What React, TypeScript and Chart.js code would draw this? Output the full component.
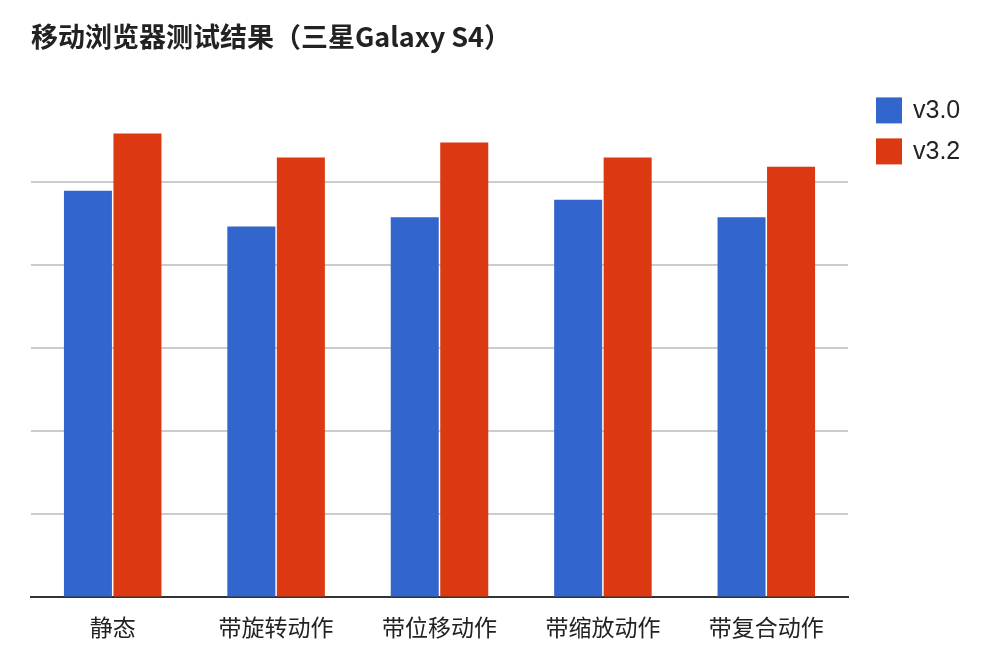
import * as React from 'react';
import {useRef, useEffect} from 'react';
import {Chart, registerables} from 'chart.js';

Chart.register(...registerables);

const categories = ['静态', '带旋转动作', '带位移动作', '带缩放动作', '带复合动作'];
const seriesNames = ['v3.0', 'v3.2'];
const v30 = [49.0, 44.7, 45.8, 47.9, 45.8];
const v32 = [55.9, 53.0, 54.8, 53.0, 51.9];
const colors = ['#3366cc', '#dc3912'];

const cjkFont = '"Noto Sans CJK SC", "Microsoft YaHei", sans-serif';

// legend drawn on the canvas, to the right of the plot
const sideLegend = {
  id: 'sideLegend',
  afterDraw(chart: any) {
    const {ctx, chartArea} = chart;
    const x = chartArea.right + 28;
    let y = chartArea.top - 2;
    ctx.save();
    ctx.font = '25px "Liberation Sans", Arial, sans-serif';
    ctx.textBaseline = 'middle';
    chart.data.datasets.forEach((ds: any) => {
      ctx.fillStyle = ds.backgroundColor;
      ctx.fillRect(x, y, 26, 26);
      ctx.fillStyle = '#222';
      ctx.fillText(ds.label, x + 37, y + 14);
      y += 41;
    });
    ctx.restore();
  },
};

function BarChart(): JSX.Element {
  const chartContainer = useRef(null);

  useEffect(() => {
    if (!chartContainer.current) return;
    const config: any = {
      type: 'bar',
      data: {
        labels: categories,
        datasets: [
          {label: seriesNames[0], data: v30, backgroundColor: colors[0]},
          {label: seriesNames[1], data: v32, backgroundColor: colors[1]},
        ],
      },
      options: {
        animation: false,
        responsive: true,
        maintainAspectRatio: false,
        layout: {padding: {left: 31, right: 148, top: 0, bottom: 21}},
        datasets: {
          bar: {categoryPercentage: 0.606, barPercentage: 0.97},
        },
        plugins: {
          legend: {display: false},
          tooltip: {enabled: false},
          title: {
            display: true,
            text: '移动浏览器测试结果（三星Galaxy S4）',
            align: 'start',
            color: '#222',
            font: {family: cjkFont, size: 27, weight: 'bold'},
            padding: {top: 21, bottom: 46},
          },
        },
        scales: {
          x: {
            grid: {display: false},
            border: {display: true, color: '#333', width: 2},
            ticks: {
              color: '#222',
              font: {family: cjkFont, size: 23},
              padding: 8,
            },
          },
          y: {
            min: 0,
            max: 60,
            ticks: {display: false, stepSize: 10},
            border: {display: false},
            grid: {
              drawTicks: false,
              lineWidth: 2,
              color: (c: any) => (c.tick && (c.tick.value === 60 || c.tick.value === 0) ? 'rgba(0,0,0,0)' : '#cccccc'),
            },
          },
        },
      },
      plugins: [sideLegend],
    };
    const newChartInstance = new Chart(chartContainer.current, config);
    return () => {
      newChartInstance.destroy();
    };
  }, []);

  return (
    <div style={{position: 'absolute', left: 0, top: 0, width: 996, height: 670, background: '#fff'}}>
      <canvas ref={chartContainer} />
    </div>
  );
}

export default function App(): JSX.Element {
  return <BarChart />;
}
